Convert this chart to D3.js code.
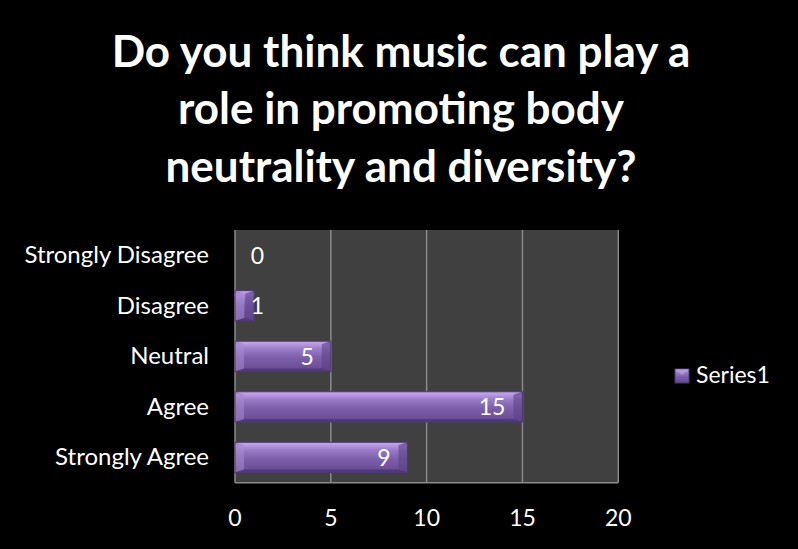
<!DOCTYPE html>
<html><head><meta charset="utf-8">
<script src="https://cdn.jsdelivr.net/npm/d3@7"></script>
<style>html,body{margin:0;padding:0;background:#000;}svg{display:block;}</style>
</head><body>
<script>
const titleLines = ["Do you think music can play a", "role in promoting body", "neutrality and diversity?"];
const categories = ["Strongly Disagree", "Disagree", "Neutral", "Agree", "Strongly Agree"];
const values = [0, 1, 5, 15, 9];
const xTicks = [0, 5, 10, 15, 20];
const seriesName = "Series1";

const W = 798, H = 549;
const FONT = "Lato, 'Open Sans', sans-serif";
const svg = d3.select("body").append("svg").attr("width", W).attr("height", H);
svg.append("rect").attr("width", W).attr("height", H).attr("fill", "#000");

const defs = svg.append("defs");
const grad = defs.append("linearGradient").attr("id", "barGrad").attr("x1", 0).attr("y1", 0).attr("x2", 0).attr("y2", 1);
[["0%", "#8e70bd"], ["12%", "#b495de"], ["25%", "#9b7cc9"], ["55%", "#7d5eab"], ["85%", "#6d509a"], ["100%", "#5a4283"]]
  .forEach(([o, c]) => grad.append("stop").attr("offset", o).attr("stop-color", c));

// title
svg.append("g").selectAll("text").data(titleLines).join("text")
  .attr("x", 401).attr("y", (d, i) => 66.5 + i * 57.5)
  .attr("text-anchor", "middle").attr("fill", "#fff")
  .attr("font-family", FONT).attr("font-weight", 700).attr("font-size", 44)
  .text(d => d);

const plot = {left: 235, right: 618.3, top: 230, bottom: 482.7};
const x = d3.scaleLinear().domain([0, 20]).range([plot.left, plot.right]);
const y = d3.scaleBand().domain(categories).range([plot.top, plot.bottom]).paddingInner(0.4).paddingOuter(0.2);

svg.append("rect").attr("x", plot.left).attr("y", plot.top)
  .attr("width", plot.right - plot.left).attr("height", plot.bottom - plot.top).attr("fill", "#404040");

// gridlines
svg.append("g").selectAll("line").data(xTicks.slice(1)).join("line")
  .attr("x1", d => x(d)).attr("x2", d => x(d)).attr("y1", plot.top).attr("y2", plot.bottom)
  .attr("stroke", "#8a8a8a").attr("stroke-width", 1.5);
// axis lines
svg.append("line").attr("x1", plot.left).attr("x2", plot.left).attr("y1", plot.top).attr("y2", plot.bottom)
  .attr("stroke", "#8a8a8a").attr("stroke-width", 1.5);
svg.append("line").attr("x1", plot.left).attr("x2", plot.right).attr("y1", plot.bottom).attr("y2", plot.bottom)
  .attr("stroke", "#8a8a8a").attr("stroke-width", 1.5);

// bars
const bars = svg.append("g").selectAll("g").data(categories.map((c, i) => ({c, v: values[i]}))).join("g");
bars.each(function(d) {
  const g = d3.select(this);
  const x0 = x(0), x1 = x(d.v), y0 = y(d.c), h = y.bandwidth(), y1 = y0 + h;
  const w = x1 - x0;
  if (w <= 0) return;
  g.append("rect").attr("x", x0).attr("y", y0).attr("width", w).attr("height", h)
    .attr("fill", "url(#barGrad)");
  const b = Math.min(9, w / 2), bv = 3;
  g.append("polygon").attr("points", [[x0, y0], [x1, y0], [x1 - b, y0 + bv], [x0 + b, y0 + bv]].join(" "))
    .attr("fill", "#c4a8ea").attr("opacity", 0.8);
  g.append("polygon").attr("points", [[x0, y1], [x1, y1], [x1 - b, y1 - bv], [x0 + b, y1 - bv]].join(" "))
    .attr("fill", "#4e3775").attr("opacity", 0.8);
  g.append("polygon").attr("points", [[x0, y0], [x0 + b, y0 + bv], [x0 + b, y1 - bv], [x0, y1]].join(" "))
    .attr("fill", "#a88bd4").attr("opacity", 0.55);
  g.append("polygon").attr("points", [[x1, y0], [x1 - b, y0 + bv], [x1 - b, y1 - bv], [x1, y1]].join(" "))
    .attr("fill", "#5a4285").attr("opacity", 0.6);
  g.append("rect").attr("x", x0).attr("y", y0).attr("width", w).attr("height", h)
    .attr("fill", "none").attr("stroke", "#4c3872").attr("stroke-width", 1);
});

// data labels
svg.append("g").selectAll("text").data(categories.map((c, i) => ({c, v: values[i]}))).join("text")
  .attr("x", d => Math.max(x(d.v) - 17, x(0) + 29))
  .attr("y", d => y(d.c) + y.bandwidth() / 2 + 8.5)
  .attr("text-anchor", "end").attr("fill", "#fff")
  .attr("font-family", FONT).attr("font-size", 23)
  .text(d => d.v);

// category axis labels
svg.append("g").selectAll("text").data(categories).join("text")
  .attr("x", 209).attr("y", d => y(d) + y.bandwidth() / 2 + 8)
  .attr("text-anchor", "end").attr("fill", "#fff")
  .attr("font-family", FONT).attr("font-size", 24)
  .text(d => d);

// x tick labels
svg.append("g").selectAll("text").data(xTicks).join("text")
  .attr("x", d => x(d)).attr("y", 526)
  .attr("text-anchor", "middle").attr("fill", "#fff")
  .attr("font-family", FONT).attr("font-size", 23)
  .text(d => d);

// legend
const lg = svg.append("g").attr("transform", "translate(675,369)");
lg.append("rect").attr("width", 14).attr("height", 14).attr("fill", "url(#barGrad)").attr("stroke", "#4c3872");
lg.append("polygon").attr("points", "0,0 14,0 7,6").attr("fill", "#b9a0e0").attr("opacity", 0.7);
lg.append("text").attr("x", 21).attr("y", 13.5).attr("fill", "#fff")
  .attr("font-family", FONT).attr("font-size", 23).text(seriesName);
</script>
</body></html>
